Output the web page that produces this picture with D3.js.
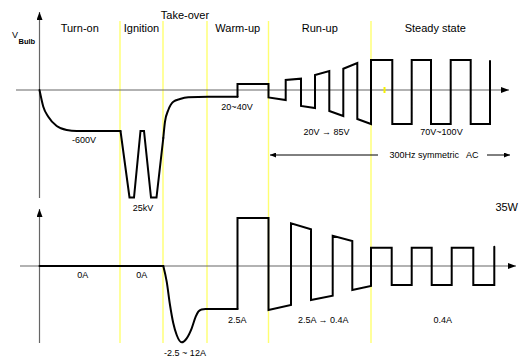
<!DOCTYPE html>
<html>
<head>
<meta charset="utf-8">
<script src="https://cdn.jsdelivr.net/npm/d3@7"></script>
<style>
  html, body { margin: 0; padding: 0; background: #fff; }
  svg { display: block; }
  text { font-family: "Liberation Sans", Arial, sans-serif; fill: #000; }
</style>
</head>
<body>
<svg id="chart" width="523" height="359"></svg>
<script>
// Operating phases of the lamp and where each one begins (time units)
const phaseNames  = ["Turn-on", "Ignition", "Take-over", "Warm-up", "Run-up", "Steady state"];
const phaseBounds = [0, 80.5, 123.5, 167.5, 229, 331.5, 460];

// Bulb voltage (display units): smooth parts as [t, v] points
const vTurnOn   = [[0, 0], [3.8, -16.7], [8.8, -26.7], [17.2, -36], [27.2, -40], [37.2, -41], [81, -41]];
const vIgnition = [[81, -41], [90, -107.5], [94.5, -107.5], [101, -41], [104.5, -41],
                   [111.5, -107.5], [117, -107.5], [123.8, -48]];
const vTakeOver = [[123.8, -48], [125.5, -31.7], [128.8, -20], [133.8, -11.7], [140.5, -9],
                   [148.8, -7.3], [168.5, -6.7], [198, -6.7]];
// Square-wave part: switching instants, level at start / end of each half cycle
const vEdges      = [198, 229, 246.2, 261.5, 275.5, 289.8, 303.8, 317.8, 331.5, 352.8, 372.2, 391.5, 411.2, 431.2, 450.5];
const vLevelStart = [6, -7.5, 10, -16, 15, -21, 21.3, -29, 30, -34, 30, -34, 30, -34];
const vLevelEnd   = [6, -10, 11.3, -18, 19, -26, 27, -34, 30, -34, 30, -34, 30, -34];
const vFinal      = 29;

// Lamp current (display units)
const iIdle     = [[0, 0], [123.8, 0]];
const iTakeOver = [[123.8, 0], [127.2, -15.7], [130.5, -39], [133.8, -57.3], [137.2, -69], [142.2, -76.3],
                   [147.2, -72.3], [152.2, -62.3], [156.2, -50.7], [158.8, -45.7], [162, -43.5], [166, -43], [198, -43]];
const iEdges      = [198, 229, 251.5, 271.5, 293.2, 312.8, 331.5, 352.2, 372.2, 392.2, 412.2, 433.8, 454.8];
const iLevelStart = [48, -44, 42.7, -34, 30.3, -24, 18.3, -19, 18.3, -19, 18.3, -19];
const iLevelEnd   = [48, -39, 36.7, -29.7, 25, -20, 18.3, -19, 18.3, -19, 18.3, -19];
const iFinal      = 19.3;

// Annotations
const voltLabels  = ["-600V", "25kV", "20~40V", "20V \u2192 85V", "70V~100V"];
const voltLabelT  = [44.5, 103.5, 197.5, 287, 402];
const voltLabelV  = [-52.5, -120.5, -20, -45, -45];
const currLabels  = ["0A", "0A", "-2.5 ~ 12A", "2.5A", "2.5A \u2192 0.4A", "0.4A"];
const currLabelT  = [43.2, 102.2, 145.5, 197.8, 283.8, 403.2];
const currLabelI  = [-11.7, -11.7, -90, -56.7, -56.5, -56.5];

const svg = d3.select("#chart");

const x  = d3.scaleLinear().domain([0, 480]).range([39.5, 519.5]);
const yV = d3.scaleLinear().domain([-110, 80]).range([200, 10]);
const yI = d3.scaleLinear().domain([-80, 60]).range([346, 206]);

// Build square-wave point lists from edges and half-cycle levels
function squarePoints(edges, starts, ends, finalLevel, prevLevel) {
  const pts = [[edges[0], prevLevel]];
  for (let k = 0; k < starts.length; k++) {
    pts.push([edges[k], starts[k]]);
    pts.push([edges[k + 1], ends[k]]);
  }
  pts.push([edges[edges.length - 1], finalLevel]);
  return pts;
}

const defs = svg.append("defs");
function arrowMarker(id, w, h) {
  defs.append("marker")
    .attr("id", id)
    .attr("viewBox", `0 0 ${w} ${h}`)
    .attr("refX", w).attr("refY", h / 2)
    .attr("markerUnits", "userSpaceOnUse")
    .attr("markerWidth", w).attr("markerHeight", h)
    .attr("orient", "auto-start-reverse")
    .append("path")
    .attr("d", `M0,0L${w},${h / 2}L0,${h}Z`)
    .attr("fill", "#000");
}
arrowMarker("axisArrow", 8, 6);
arrowMarker("spanArrow", 6, 5);

// Phase boundaries
const gPhase = svg.append("g");
gPhase.selectAll("line")
  .data(phaseBounds.slice(1, -1))
  .join("line")
  .attr("x1", d => x(d)).attr("x2", d => x(d))
  .attr("y1", yV(69)).attr("y2", yI(-77))
  .attr("stroke", "#ffff70").attr("stroke-width", 1.4);

// Axes
const axisColor = "#666";
svg.append("line")
  .attr("x1", x(0)).attr("x2", x(0))
  .attr("y1", yV(-108)).attr("y2", yV(78))
  .attr("stroke", axisColor).attr("stroke-width", 1.2)
  .attr("marker-end", "url(#axisArrow)");
svg.append("line")
  .attr("x1", x(-23.5)).attr("x2", x(469.5))
  .attr("y1", yV(0)).attr("y2", yV(0))
  .attr("stroke", axisColor).attr("stroke-width", 1.2)
  .attr("marker-end", "url(#axisArrow)");
svg.append("line")
  .attr("x1", x(0)).attr("x2", x(0))
  .attr("y1", yI(-77)).attr("y2", yI(57))
  .attr("stroke", axisColor).attr("stroke-width", 1.2)
  .attr("marker-end", "url(#axisArrow)");
svg.append("line")
  .attr("x1", x(-19.5)).attr("x2", x(476.5))
  .attr("y1", yI(0)).attr("y2", yI(0))
  .attr("stroke", axisColor).attr("stroke-width", 1.2)
  .attr("marker-end", "url(#axisArrow)");

// small marker on the voltage axis in the steady-state phase
svg.append("line")
  .attr("x1", x(345)).attr("x2", x(345))
  .attr("y1", yV(3)).attr("y2", yV(-3))
  .attr("stroke", "#f5f000").attr("stroke-width", 2);

// Waveforms
const lineV = d3.line().x(d => x(d[0])).y(d => yV(d[1]));
const lineI = d3.line().x(d => x(d[0])).y(d => yI(d[1]));
const smoothV = d3.line().x(d => x(d[0])).y(d => yV(d[1])).curve(d3.curveMonotoneX);
const smoothI = d3.line().x(d => x(d[0])).y(d => yI(d[1])).curve(d3.curveMonotoneX);

const wave = svg.append("g")
  .attr("fill", "none").attr("stroke", "#000").attr("stroke-width", 2)
  .attr("stroke-linejoin", "miter").attr("stroke-linecap", "round");

wave.append("path").attr("d", smoothV(vTurnOn));
wave.append("path").attr("d", lineV(vIgnition));
wave.append("path").attr("d", smoothV(vTakeOver));
wave.append("path").attr("d", lineV(squarePoints(vEdges, vLevelStart, vLevelEnd, vFinal, vTakeOver[vTakeOver.length - 1][1])));

wave.append("path").attr("d", lineI(iIdle));
wave.append("path").attr("d", smoothI(iTakeOver));
wave.append("path").attr("d", lineI(squarePoints(iEdges, iLevelStart, iLevelEnd, iFinal, iTakeOver[iTakeOver.length - 1][1])));

// Phase names
svg.append("g").selectAll("text")
  .data(phaseNames)
  .join("text")
  .attr("x", (d, k) => x((phaseBounds[k] + phaseBounds[k + 1]) / 2))
  .attr("y", d => d === "Take-over" ? 18.5 : 32)
  .attr("text-anchor", "middle")
  .attr("font-size", 11)
  .text(d => d);

// Y-axis title
const vt = svg.append("text").attr("x", 12).attr("y", 38.3).attr("font-size", 9);
vt.append("tspan").text("V");
vt.append("tspan").attr("dy", 6).attr("dx", 0.5).attr("font-size", 7.5).attr("font-weight", "bold").text("Bulb");

// Value annotations
svg.append("g").selectAll("text")
  .data(voltLabels)
  .join("text")
  .attr("x", (d, k) => x(voltLabelT[k]))
  .attr("y", (d, k) => yV(voltLabelV[k]))
  .attr("text-anchor", "middle")
  .attr("font-size", 9)
  .text(d => d);

svg.append("g").selectAll("text")
  .data(currLabels)
  .join("text")
  .attr("x", (d, k) => x(currLabelT[k]))
  .attr("y", (d, k) => yI(currLabelI[k]))
  .attr("text-anchor", "middle")
  .attr("font-size", 9)
  .text(d => d);

// Span of the 300 Hz AC operation
const spanY = yV(-65);
svg.append("line")
  .attr("x1", x(230.5)).attr("x2", x(338.5))
  .attr("y1", spanY).attr("y2", spanY)
  .attr("stroke", "#000").attr("stroke-width", 1)
  .attr("marker-start", "url(#spanArrow)");
svg.append("line")
  .attr("x1", x(447.5)).attr("x2", x(470.5))
  .attr("y1", spanY).attr("y2", spanY)
  .attr("stroke", "#000").attr("stroke-width", 1)
  .attr("marker-end", "url(#spanArrow)");
svg.append("text")
  .attr("x", x(394.5)).attr("y", spanY + 3.3)
  .attr("text-anchor", "middle")
  .attr("font-size", 9)
  .attr("xml:space", "preserve")
  .style("white-space", "pre")
  .text("300Hz symmetric   AC");

// Rated power
svg.append("text")
  .attr("x", x(478.5)).attr("y", 210.7)
  .attr("text-anchor", "end")
  .attr("font-size", 11)
  .text("35W");
</script>
</body>
</html>
